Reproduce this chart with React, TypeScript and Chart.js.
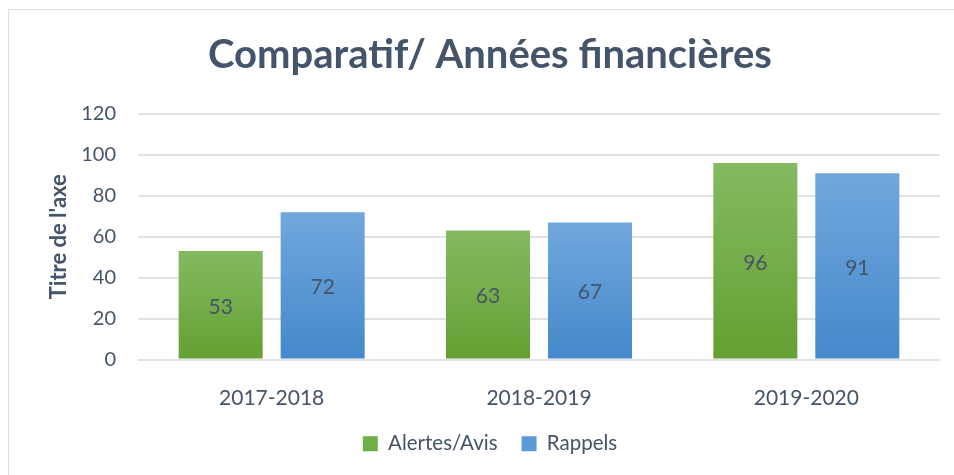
import React, { useEffect, useRef } from "react";
import { Chart, registerables } from "chart.js";

Chart.register(...registerables);

const categories = ["2017-2018", "2018-2019", "2019-2020"];
const seriesNames = ["Alertes/Avis", "Rappels"];
const alertesValues = [53, 63, 96];
const rappelsValues = [72, 67, 91];
const yTicks = [0, 20, 40, 60, 80, 100, 120];

const TEXT = "#44546A";
const FONT = "Lato";

const greenTop = "#84BA60";
const greenBottom = "#64A032";
const blueTop = "#71A7DD";
const blueBottom = "#4489CB";

function barGradient(top: string, bottom: string, fallback: string) {
  return (ctx: any) => {
    const chart = ctx.chart;
    const y = chart.scales && chart.scales.y;
    if (!y || ctx.raw == null) return fallback;
    const yTop = y.getPixelForValue(ctx.raw);
    const yBase = y.getPixelForValue(0);
    if (!isFinite(yTop) || !isFinite(yBase) || yTop === yBase) return fallback;
    const g = chart.ctx.createLinearGradient(0, yTop, 0, yBase);
    g.addColorStop(0, top);
    g.addColorStop(1, bottom);
    return g;
  };
}

const frame = {
  id: "frame",
  beforeDraw(chart: any) {
    const c = chart.ctx;
    c.save();
    c.fillStyle = "#ffffff";
    c.fillRect(0, 0, chart.width, chart.height);
    c.strokeStyle = "#dadee3";
    c.lineWidth = 1;
    c.beginPath();
    c.moveTo(8.5, chart.height);
    c.lineTo(8.5, 9.5);
    c.lineTo(chart.width, 9.5);
    c.stroke();
    c.restore();
  },
};

const valueLabels = {
  id: "valueLabels",
  afterDatasetsDraw(chart: any) {
    const c = chart.ctx;
    c.save();
    c.font = `21px ${FONT}`;
    c.fillStyle = TEXT;
    c.textAlign = "center";
    c.textBaseline = "middle";
    chart.data.datasets.forEach((ds: any, di: number) => {
      const meta = chart.getDatasetMeta(di);
      meta.data.forEach((bar: any, i: number) => {
        const v = ds.data[i];
        c.fillText(String(v), bar.x, (bar.y + bar.base) / 2 + 2);
      });
    });
    c.restore();
  },
};

export default function App() {
  const ref = useRef<HTMLCanvasElement | null>(null);

  useEffect(() => {
    if (!ref.current) return;
    const chart = new Chart(ref.current, {
      type: "bar",
      data: {
        labels: categories,
        datasets: [
          {
            label: seriesNames[0],
            data: alertesValues,
            backgroundColor: barGradient(greenTop, greenBottom, "#70AD47"),
            borderWidth: 0,
            categoryPercentage: 0.763,
            barPercentage: 0.824,
          },
          {
            label: seriesNames[1],
            data: rappelsValues,
            backgroundColor: barGradient(blueTop, blueBottom, "#5B9BD5"),
            borderWidth: 0,
            categoryPercentage: 0.763,
            barPercentage: 0.824,
          },
        ],
      },
      options: {
        animation: false,
        responsive: false,
        maintainAspectRatio: false,
        layout: { padding: { left: 40, right: 14, top: 0, bottom: 11 } },
        plugins: {
          title: {
            display: true,
            text: "Comparatif/ Années financières",
            color: TEXT,
            font: { family: FONT, size: 40, weight: "bold" },
            padding: { top: 31, bottom: 35 },
          },
          legend: {
            position: "bottom",
            labels: {
              color: TEXT,
              font: { family: FONT, size: 20.5 },
              boxWidth: 15,
              boxHeight: 15,
              padding: 24,
              generateLabels: () => [
                { text: seriesNames[0], fillStyle: "#70AE46", strokeStyle: "#70AE46", lineWidth: 0, datasetIndex: 0, fontColor: TEXT },
                { text: seriesNames[1], fillStyle: "#5B9BD5", strokeStyle: "#5B9BD5", lineWidth: 0, datasetIndex: 1, fontColor: TEXT },
              ] as any,
            },
          },
          tooltip: { enabled: false },
        },
        scales: {
          x: {
            grid: { display: false },
            border: { display: false },
            ticks: { color: TEXT, font: { family: FONT, size: 21 }, padding: 18 },
            afterFit: (s: any) => {
              s.height = 50;
            },
          },
          y: {
            min: 0,
            max: 120,
            afterBuildTicks: (s: any) => {
              s.ticks = yTicks.map((v) => ({ value: v }));
            },
            grid: { color: "#dfe2e7", lineWidth: 2, drawTicks: false },
            border: { display: false },
            ticks: { color: TEXT, font: { family: FONT, size: 20 }, padding: 22 },
            title: {
              display: true,
              text: "Titre de l'axe",
              color: TEXT,
              font: { family: FONT, size: 22, weight: "bold" },
              padding: { top: 6, bottom: 0 },
            },
            afterFit: (s: any) => {
              s.width = 98;
            },
          },
        },
      },
      plugins: [frame, valueLabels],
    });
    return () => chart.destroy();
  }, []);

  return (
    <div style={{ position: "absolute", left: 0, top: 0, width: 954, height: 475, background: "#fff" }}>
      <canvas ref={ref} width={954} height={475} style={{ display: "block", width: 954, height: 475 }} />
    </div>
  );
}
